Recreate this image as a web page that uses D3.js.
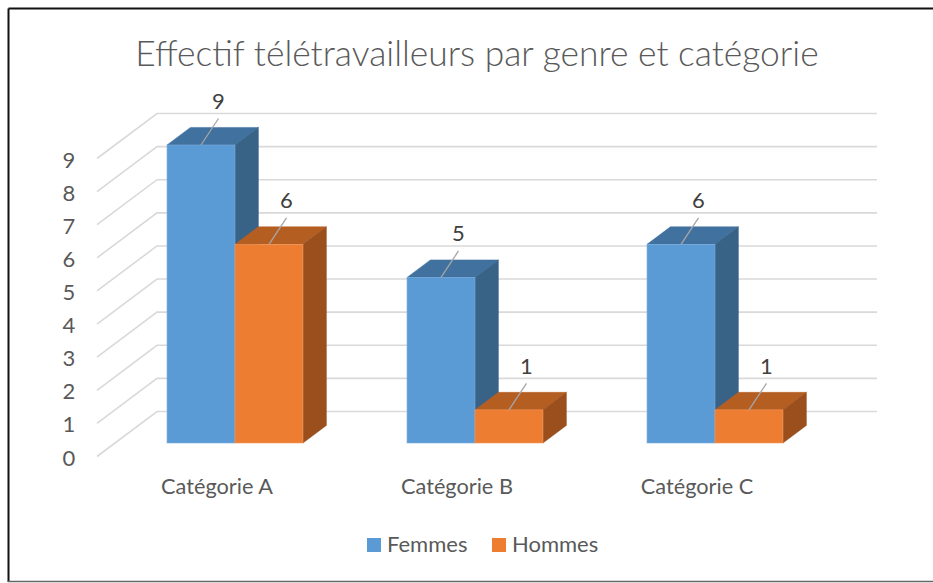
<!doctype html>
<html lang="fr">

<head>
    <meta charset="UTF-8" />
    <script src="https://d3js.org/d3.v7.min.js"></script>
    <title>Effectif télétravailleurs</title>
    <style>
        body { margin: 0; background: #fff; }
        text { font-family: Lato, "Open Sans", sans-serif; fill: #595959; }
    </style>
</head>

<body>
    <div id="chart"></div>
    <script>
        // Data
        const categories = ["Catégorie A", "Catégorie B", "Catégorie C"]
        const series = ["Femmes", "Hommes"]
        const femmes = [9, 5, 6]
        const hommes = [6, 1, 1]
        const yTicks = [0, 1, 2, 3, 4, 5, 6, 7, 8, 9]
        const title = "Effectif télétravailleurs par genre et catégorie"

        const W = 933, H = 583

        // colors: front / top / side
        const colors = {
            Femmes: { front: "#5B9BD5", top: "#41719F", side: "#386387", edge: "#7DAEDD" },
            Hommes: { front: "#ED7D31", top: "#B55E22", side: "#9A4F1D", edge: "#F09A5E" }
        }

        const svg = d3.select("#chart").append("svg")
            .attr("width", W)
            .attr("height", H)

        // frame
        svg.append("line").attr("x1", 8.5).attr("y1", 8.5).attr("x2", W + 5).attr("y2", 8.5)
            .attr("stroke", "#111").attr("stroke-width", 2)
        svg.append("line").attr("x1", 8.5).attr("y1", 8.5).attr("x2", 8.5).attr("y2", 582)
            .attr("stroke", "#111").attr("stroke-width", 2)
        svg.append("line").attr("x1", 8).attr("y1", 581.5).attr("x2", W + 5).attr("y2", 581.5)
            .attr("stroke", "#666").attr("stroke-width", 1.5)

        // scales (front plane of the floor)
        const x0 = d3.scaleBand().domain(categories).range([97, 817])
        const x1 = d3.scaleBand().domain(series).range([0, x0.bandwidth()]).paddingOuter(0.765)
        const y = d3.scaleLinear().domain([0, 9]).range([456.5, 158.5])
        // depth projection (0 = front, 1 = back wall)
        const dx = d3.scaleLinear().domain([0, 1]).range([0, 60])
        const dy = d3.scaleLinear().domain([0, 1]).range([0, -45])
        const barFront = 0.3, barBack = 0.69

        // gridlines: side diagonal + back wall
        const grid = svg.append("g")
        const xLeft = x0.range()[0], xRight = x0.range()[1]
        grid.selectAll("polyline")
            .data(yTicks)
            .join("polyline")
            .attr("points", d => [
                [xLeft, y(d)],
                [xLeft + dx(1), y(d) + dy(1)],
                [xRight + dx(1), y(d) + dy(1)]
            ].map(p => p.join(",")).join(" "))
            .attr("fill", "none")
            .attr("stroke", "#D9D9D9")
            .attr("stroke-width", 1.6)

        // y tick labels
        svg.append("g").selectAll("text")
            .data(yTicks)
            .join("text")
            .attr("x", 69)
            .attr("y", d => y(d) + 9)
            .attr("text-anchor", "middle")
            .attr("font-size", "22px")
            .text(d => d)

        // bars
        const bars = []
        categories.forEach((c, i) => {
            bars.push({ cat: c, s: "Femmes", v: femmes[i] })
            bars.push({ cat: c, s: "Hommes", v: hommes[i] })
        })

        const pts = arr => arr.map(p => p.join(",")).join(" ")

        const barG = svg.append("g")
        bars.forEach(b => {
            const col = colors[b.s]
            const xa = x0(b.cat) + x1(b.s) + dx(barFront)
            const xb = xa + x1.bandwidth()
            const yb = y(0) + dy(barFront)
            const yt = y(b.v) + dy(barFront)
            const ox = dx(barBack) - dx(barFront)
            const oy = dy(barBack) - dy(barFront)
            const g = barG.append("g")
            g.append("polygon")
                .attr("points", pts([[xa, yt], [xb, yt], [xb + ox, yt + oy], [xa + ox, yt + oy]]))
                .attr("fill", col.top)
                .attr("stroke", col.top).attr("stroke-width", 0.5)
            g.append("polygon")
                .attr("points", pts([[xb, yt], [xb + ox, yt + oy], [xb + ox, yb + oy], [xb, yb]]))
                .attr("fill", col.side)
                .attr("stroke", col.side).attr("stroke-width", 0.5)
            g.append("rect")
                .attr("x", xa).attr("y", yt)
                .attr("width", xb - xa).attr("height", yb - yt)
                .attr("fill", col.front)
                .attr("stroke", col.edge).attr("stroke-width", 0.6)

            // data label with leader line
            const cx = (xa + xb) / 2
            g.append("line")
                .attr("x1", cx).attr("y1", yt)
                .attr("x2", cx + 17.5).attr("y2", yt - 26.5)
                .attr("stroke", "#A6A6A6").attr("stroke-width", 1.3)
            g.append("text")
                .attr("x", cx + 17.5)
                .attr("y", yt - 36)
                .attr("text-anchor", "middle")
                .attr("font-size", "22px")
                .style("fill", "#404040")
                .text(b.v)
        })

        // category labels
        svg.append("g").selectAll("text")
            .data(categories)
            .join("text")
            .attr("x", d => x0(d) + x0.bandwidth() / 2)
            .attr("y", 494)
            .attr("text-anchor", "middle")
            .attr("font-size", "21.7px")
            .text(d => d)

        // title
        svg.append("text")
            .attr("x", 477)
            .attr("y", 66)
            .attr("text-anchor", "middle")
            .attr("font-size", "35.4px")
            .attr("font-weight", 300)
            .text(title)

        // legend
        const legendX = [367, 492]
        const legend = svg.append("g")
        series.forEach((s, i) => {
            legend.append("rect")
                .attr("x", legendX[i]).attr("y", 538)
                .attr("width", 14).attr("height", 14)
                .attr("fill", colors[s].front)
            legend.append("text")
                .attr("x", legendX[i] + 20)
                .attr("y", 552)
                .attr("font-size", "22px")
                .text(s)
        })
    </script>
</body>

</html>
